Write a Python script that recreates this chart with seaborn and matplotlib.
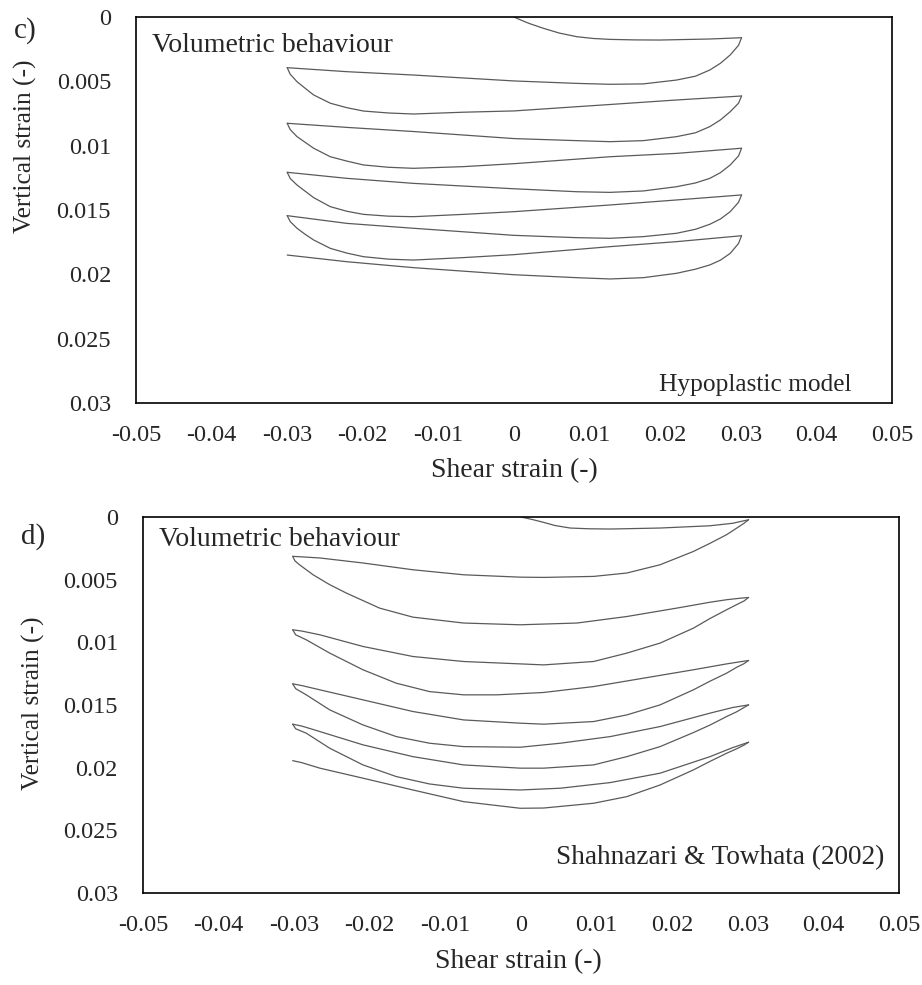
import numpy as np
import pandas as pd
import matplotlib
matplotlib.use("Agg")
import matplotlib.pyplot as plt
import seaborn as sns

# ========== DATA ==========
# panel c) hypoplastic model : loading branch, then alternating unload / reload
c_load_x = [0.0, 0.001, 0.002, 0.0039, 0.006, 0.0083, 0.0105, 0.0127, 0.016, 0.0193, 0.0259, 0.0301]
c_load_y = [0.0, 0.00026, 0.0005, 0.00088, 0.00125, 0.00153, 0.00167, 0.00174, 0.00178, 0.00179, 0.00171, 0.00161]

c_unload_x = [0.0301, 0.0297, 0.0286, 0.0273, 0.0259, 0.024, 0.0215, 0.0171, 0.0127, 0.0083, 0.0, -0.0133, -0.0221, -0.0300]
c_unload1_y = [0.00161, 0.0022, 0.00295, 0.0036, 0.00412, 0.0046, 0.0049, 0.0052, 0.00523, 0.00516, 0.00497, 0.00451, 0.00425, 0.00394]
c_unload2_y = [0.00614, 0.0067, 0.00736, 0.008, 0.00852, 0.009, 0.0093, 0.00961, 0.00969, 0.00961, 0.00945, 0.0089, 0.00858, 0.00826]
c_unload3_y = [0.0102, 0.0108, 0.0115, 0.0121, 0.01254, 0.0129, 0.01319, 0.01352, 0.01363, 0.01358, 0.01335, 0.01293, 0.01254, 0.01207]
c_unload4_y = [0.01383, 0.0144, 0.01513, 0.0157, 0.01611, 0.0165, 0.01681, 0.01707, 0.0172, 0.01715, 0.01697, 0.01642, 0.01604, 0.01544]
c_unload5_y = [0.017, 0.0176, 0.01837, 0.0189, 0.01927, 0.0196, 0.01992, 0.02026, 0.02036, 0.02026, 0.02003, 0.01948, 0.01902, 0.0185]

c_reload_x = [-0.0300, -0.0296, -0.0287, -0.0276, -0.0265, -0.0243, -0.0221, -0.0199, -0.0166, -0.0133, -0.0067, 0.0, 0.0127, 0.0215, 0.0301]
c_reload1_y = [0.00394, 0.00445, 0.00503, 0.00555, 0.00606, 0.0067, 0.00705, 0.00731, 0.00746, 0.00754, 0.0074, 0.0073, 0.0068, 0.00645, 0.00614]
c_reload2_y = [0.00826, 0.00875, 0.0093, 0.00975, 0.0102, 0.01086, 0.0112, 0.0115, 0.01168, 0.01176, 0.01163, 0.0114, 0.01086, 0.0106, 0.0102]
c_reload3_y = [0.01207, 0.01255, 0.01306, 0.01355, 0.01404, 0.01474, 0.0151, 0.01534, 0.01548, 0.01552, 0.01534, 0.01513, 0.01461, 0.01422, 0.01383]
c_reload4_y = [0.01544, 0.0159, 0.01642, 0.0169, 0.01733, 0.01798, 0.01835, 0.01863, 0.01882, 0.01889, 0.0187, 0.01847, 0.01785, 0.01746, 0.017]

# panel d) Shahnazari & Towhata (2002)
d_load_x = [0.0, 0.0015, 0.003, 0.0045, 0.0065, 0.009, 0.0118, 0.0184, 0.025, 0.028, 0.0301]
d_load_y = [0.0, 0.0002, 0.00043, 0.00068, 0.00088, 0.00094, 0.00096, 0.00088, 0.0007, 0.0005, 0.00022]

d_unload_x = [0.0301, 0.0295, 0.0285, 0.0272, 0.025, 0.0228, 0.0184, 0.014, 0.0096, 0.003, -0.0001,
              -0.0076, -0.0143, -0.0209, -0.0266, -0.029, -0.0302]
d_unload1_y = [0.00022, 0.0005, 0.0009, 0.00141, 0.0021, 0.00275, 0.00381, 0.00447, 0.00474, 0.00482, 0.0048,
               0.00461, 0.00421, 0.00367, 0.00327, 0.00318, 0.00314]
d_unload2_y = [0.00642, 0.0067, 0.007, 0.0074, 0.0081, 0.00887, 0.01006, 0.01086, 0.01153, 0.0118, 0.01172,
               0.01153, 0.01113, 0.01033, 0.0094, 0.0091, 0.009]
d_unload3_y = [0.01145, 0.0117, 0.012, 0.01246, 0.0131, 0.01379, 0.01499, 0.01579, 0.01632, 0.01653, 0.01645,
               0.01619, 0.01552, 0.01459, 0.01379, 0.01345, 0.01331]
d_unload4_y = [0.01499, 0.0152, 0.01555, 0.01592, 0.0166, 0.0172, 0.01832, 0.01912, 0.01978, 0.02004, 0.02004,
               0.01978, 0.01912, 0.01818, 0.01712, 0.01668, 0.01653]
d_unload5_y = [0.01797, 0.0182, 0.0185, 0.01885, 0.0195, 0.02018, 0.02138, 0.02231, 0.02284, 0.02322, 0.02324,
               0.02271, 0.02178, 0.02084, 0.02004, 0.0196, 0.01944]

d_reload1_x = [-0.0302, -0.0299, -0.0293, -0.0275, -0.0253, -0.0231, -0.0187, -0.0143, -0.0076, -0.0001,
               0.0074, 0.014, 0.0206, 0.025, 0.0272, 0.029, 0.0301]
d_reload1_y = [0.00314, 0.0035, 0.00381, 0.00461, 0.0054, 0.00607, 0.00727, 0.00799, 0.00846, 0.0086,
               0.00846, 0.00794, 0.00727, 0.0068, 0.0066, 0.00648, 0.00642]
d_reload2_x = [-0.0302, -0.0298, -0.0284, -0.0253, -0.0209, -0.0165, -0.0121, -0.0076, -0.0032, 0.003,
               0.0096, 0.0162, 0.0228, 0.0272, 0.029, 0.0301]
d_reload2_y = [0.009, 0.0094, 0.0098, 0.01086, 0.01219, 0.01326, 0.01393, 0.01419, 0.01419, 0.014,
               0.01353, 0.01286, 0.01219, 0.01172, 0.01155, 0.01145]
d_reload_x = [-0.0302, -0.0298, -0.0284, -0.0253, -0.0209, -0.0165, -0.0121, -0.0076, -0.0001, 0.0052,
              0.0118, 0.0184, 0.025, 0.028, 0.0301]
d_reload3_y = [0.01331, 0.0137, 0.01419, 0.01539, 0.01659, 0.01752, 0.01805, 0.01832, 0.01837, 0.01805,
               0.01752, 0.01672, 0.01565, 0.0152, 0.01499]
d_reload4_y = [0.01653, 0.0169, 0.01725, 0.01845, 0.01978, 0.02071, 0.0213, 0.02164, 0.02178, 0.02164,
               0.02119, 0.02044, 0.01912, 0.0184, 0.01797]

x_ticks = [-0.05, -0.04, -0.03, -0.02, -0.01, 0, 0.01, 0.02, 0.03, 0.04, 0.05]
x_ticklabels = ["-0.05", "-0.04", "-0.03", "-0.02", "-0.01", "0", "0.01", "0.02", "0.03", "0.04", "0.05"]
y_ticks = [0, 0.005, 0.01, 0.015, 0.02, 0.025, 0.03]
y_ticklabels = ["0", "0.005", "0.01", "0.015", "0.02", "0.025", "0.03"]


def to_frame(branches):
    parts = []
    for i, (bx, by) in enumerate(branches):
        parts.append(pd.DataFrame({"shear": bx, "vertical": by, "branch": i}))
    return pd.concat(parts, ignore_index=True)


df_c = to_frame([
    (c_load_x, c_load_y),
    (c_unload_x, c_unload1_y), (c_reload_x, c_reload1_y),
    (c_unload_x, c_unload2_y), (c_reload_x, c_reload2_y),
    (c_unload_x, c_unload3_y), (c_reload_x, c_reload3_y),
    (c_unload_x, c_unload4_y), (c_reload_x, c_reload4_y),
    (c_unload_x, c_unload5_y),
])
df_d = to_frame([
    (d_load_x, d_load_y),
    (d_unload_x, d_unload1_y), (d_reload1_x, d_reload1_y),
    (d_unload_x, d_unload2_y), (d_reload2_x, d_reload2_y),
    (d_unload_x, d_unload3_y), (d_reload_x, d_reload3_y),
    (d_unload_x, d_unload4_y), (d_reload_x, d_reload4_y),
    (d_unload_x, d_unload5_y),
])

# ========== STYLE ==========
sns.set_style("white")
plt.rcParams["font.family"] = ["Liberation Serif", "DejaVu Serif"]
plt.rcParams["axes.unicode_minus"] = False
FS_TICK = 17.5

fig = plt.figure(figsize=(9.22, 9.85), dpi=100)
ax_c = fig.add_axes([136 / 922, 1 - 403 / 985, 756 / 922, 386 / 985])
ax_d = fig.add_axes([143 / 922, 1 - 893 / 985, 756 / 922, 376 / 985])


def style_axes(ax, df, ylab_pos, xlab_pos, vol_pos):
    sns.lineplot(data=df, x="shear", y="vertical", units="branch", estimator=None,
                 sort=False, color="#5a5a5a", linewidth=0.9, ax=ax, legend=False)
    ax.set_xlim(-0.05, 0.05)
    ax.set_ylim(0.03, 0)
    ax.set_xticks(x_ticks)
    ax.set_xticklabels(x_ticklabels)
    ax.set_yticks(y_ticks)
    ax.set_yticklabels(y_ticklabels)
    ax.tick_params(axis="x", direction="in", length=5, width=1.2, labelsize=FS_TICK, pad=15.5)
    ax.tick_params(axis="y", direction="in", length=5, width=1.2, labelsize=FS_TICK, pad=18)
    for s in ax.spines.values():
        s.set_color("black")
        s.set_linewidth(1.2)
    ax.set_xlabel("Shear strain (-)", fontsize=20)
    ax.set_ylabel("Vertical strain (-)", fontsize=18.3)
    ax.xaxis.label.set_va("center")
    ax.yaxis.label.set_va("center")
    ax.yaxis.set_label_coords(*ylab_pos)
    ax.xaxis.set_label_coords(*xlab_pos)
    ax.text(vol_pos[0], vol_pos[1], "Volumetric behaviour", transform=ax.transAxes,
            fontsize=20, ha="left", va="baseline")


style_axes(ax_c, df_c, (-0.1468, 0.666), (0.501, -0.174), (0.0208, 0.910))
style_axes(ax_d, df_d, (-0.1448, 0.505), (0.497, -0.183), (0.0208, 0.924))

ax_c.text(0.947, 0.047, "Hypoplastic model", transform=ax_c.transAxes,
          fontsize=18.3, ha="right", va="center")
ax_d.text(0.981, 0.093, "Shahnazari & Towhata (2002)", transform=ax_d.transAxes,
          fontsize=19.6, ha="right", va="center")

fig.text(25 / 922, 1 - 31 / 985, "c)", fontsize=21, ha="center", va="center")
fig.text(33 / 922, 1 - 537 / 985, "d)", fontsize=21, ha="center", va="center")

fig.savefig("out.png", dpi=100)
